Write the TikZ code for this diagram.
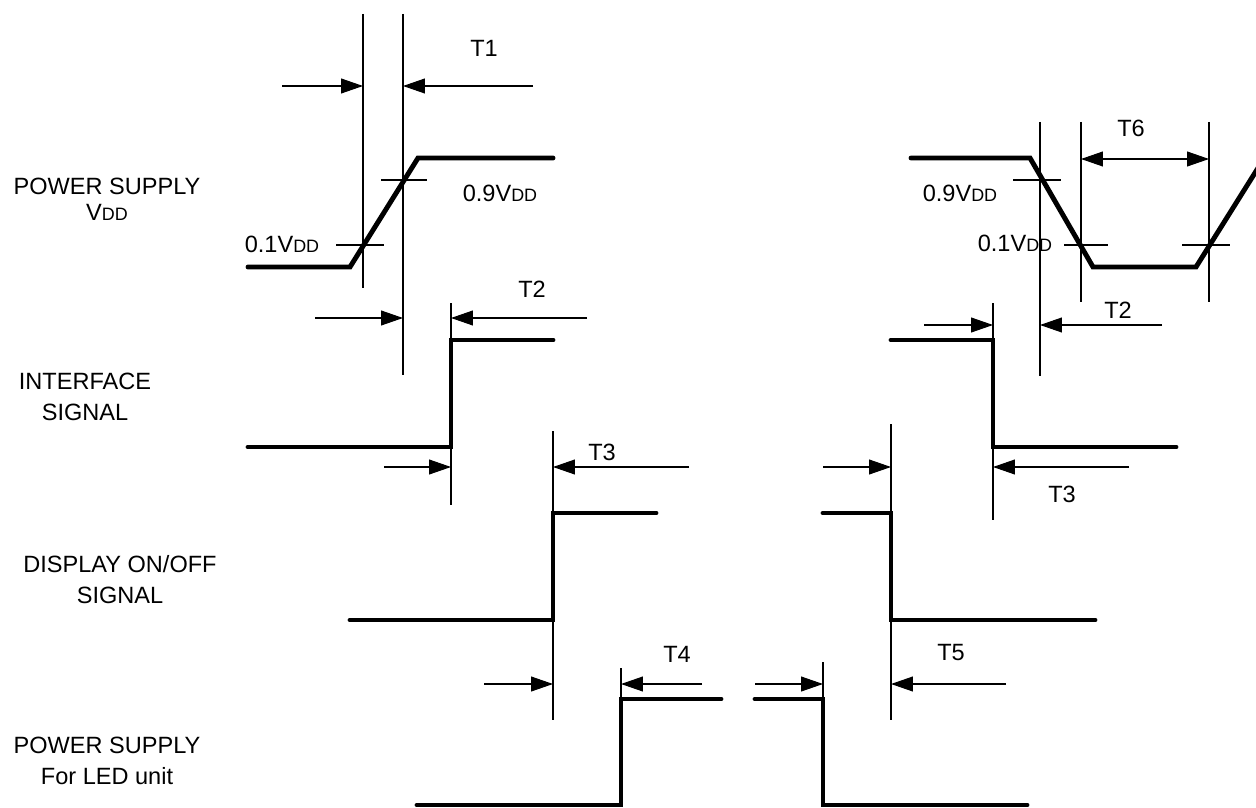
\documentclass[tikz,border=0pt]{standalone}
\usepackage{fontspec}
\setmainfont{Liberation Sans}
\usetikzlibrary{arrows.meta}
\newcommand{\lbl}{\fontsize{13.4}{16}\selectfont}
\newcommand{\vdd}{V{\fontsize{10.2}{12}\selectfont DD}}
\begin{document}
\begin{tikzpicture}[x=0.02cm, y=-0.02cm, font=\lbl, line join=round, line cap=round, >={Triangle[length=12.5pt,width=8.5pt]},
		sig/.style={line width=2.8pt, line join=miter},
		guide/.style={line width=0.6pt, line cap=butt},
		tag/.style={inner sep=0pt}]
			\useasboundingbox (0,0) rectangle (1256,807);
			% signal names
			\node[tag, anchor=base] (vddA) at (107,195) {POWER SUPPLY};
			\node[tag, anchor=base] (vddB) at (107,221) {\vdd};
			\node[tag, anchor=base] (ifA) at (85,389) {INTERFACE};
			\node[tag, anchor=base] (ifB) at (85,420) {SIGNAL};
			\node[tag, anchor=base] (dispA) at (120,572) {DISPLAY ON/OFF};
			\node[tag, anchor=base] (dispB) at (120,603) {SIGNAL};
			\node[tag, anchor=base] (ledA) at (107,753) {POWER SUPPLY};
			\node[tag, anchor=base] (ledB) at (107,784) {For LED unit};
			% waveforms
			\draw[sig] (248,267)--(350,267)--(418,158)--(553,158);
			\draw[sig] (911,158)--(1030,158)--(1093,267)--(1196,267)--(1258,168);
			\draw[sig] (248,447)--(451,447)--(451,340)--(553,340);
			\draw[sig] (891,340)--(993,340)--(993,447)--(1176,447);
			\draw[sig] (350,620)--(553,620)--(553,513)--(656,513);
			\draw[sig] (823,513)--(891,513)--(891,620)--(1095,620);
			\draw[sig] (417,805)--(621,805)--(621,699)--(721,699);
			\draw[sig] (755,699)--(823,699)--(823,805)--(1027,805);
			% guide lines
			\draw[guide] (363,14)--(363,288);
			\draw[guide] (403,14)--(403,375);
			\draw[guide] (451,303)--(451,505);
			\draw[guide] (553,431)--(553,720);
			\draw[guide] (621,668)--(621,699);
			\draw[guide] (823,662)--(823,699);
			\draw[guide] (891,424)--(891,720);
			\draw[guide] (993,303)--(993,520);
			\draw[guide] (1040,122)--(1040,376);
			\draw[guide] (1081,122)--(1081,302);
			\draw[guide] (1209,122)--(1209,302);
			% level marks
			\draw[guide] (336,245)--(384,245);
			\draw[guide] (381,180)--(427,180);
			\draw[guide] (1013,180)--(1061,180);
			\draw[guide] (1064,245)--(1108,245);
			\draw[guide] (1182,245)--(1230,245);
			\node[tag] (lowA) at (282,244) {0.1\vdd};
			\node[tag] (highA) at (500,193) {0.9\vdd};
			\node[tag] (highB) at (960,193) {0.9\vdd};
			\node[tag] (lowB) at (1015,243) {0.1\vdd};
			% timing arrows
			\draw[guide,->] (282,86)--(363,86);
			\draw[guide,->] (533,86)--(403,86);
			\draw[guide,->] (315,318)--(403,318);
			\draw[guide,->] (587,318)--(451,318);
			\draw[guide,->] (384,467)--(451,467);
			\draw[guide,->] (689,467)--(553,467);
			\draw[guide,->] (484,684)--(553,684);
			\draw[guide,->] (702,684)--(621,684);
			\draw[guide,->] (924,325)--(993,325);
			\draw[guide,->] (1162,325)--(1040,325);
			\draw[guide,->] (823,467)--(891,467);
			\draw[guide,->] (1129,467)--(993,467);
			\draw[guide,->] (755,684)--(823,684);
			\draw[guide,->] (1006,684)--(891,684);
			\draw[guide,<->] (1081,159)--(1209,159);
			\node[tag] (t1) at (484,48) {T1};
			\node[tag] (t2a) at (532,289) {T2};
			\node[tag] (t3a) at (602,452) {T3};
			\node[tag] (t4) at (677,654) {T4};
			\node[tag] (t5) at (951,653) {T5};
			\node[tag] (t6) at (1131,128) {T6};
			\node[tag] (t2b) at (1118,310) {T2};
			\node[tag] (t3b) at (1062,494) {T3};
		\end{tikzpicture}
\end{document}
